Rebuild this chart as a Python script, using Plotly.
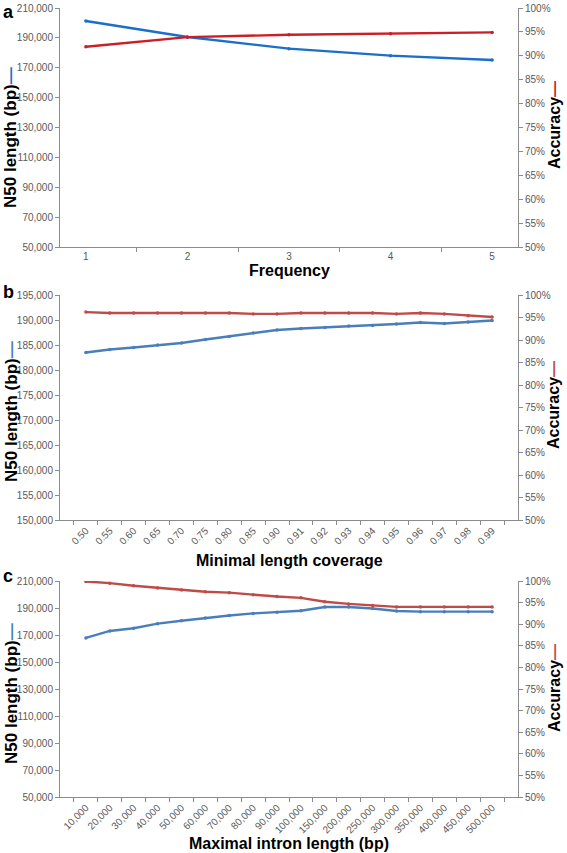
import plotly.graph_objects as go

# ---------------- data ----------------
freq_cats = ["1", "2", "3", "4", "5"]
n50_a = [201300, 190600, 182800, 178100, 175200]
acc_a = [0.919, 0.939, 0.944, 0.946, 0.949]

cov_cats = ["0.50", "0.55", "0.60", "0.65", "0.70", "0.75", "0.80", "0.85", "0.90",
            "0.91", "0.92", "0.93", "0.94", "0.95", "0.96", "0.97", "0.98", "0.99"]
n50_b = [183500, 184100, 184500, 185000, 185400, 186100, 186700, 187400, 188000,
         188300, 188500, 188800, 188900, 189200, 189500, 189300, 189600, 189900]
acc_b = [0.962, 0.960, 0.960, 0.960, 0.960, 0.960, 0.960, 0.958, 0.958,
         0.960, 0.960, 0.960, 0.960, 0.958, 0.960, 0.958, 0.954, 0.951]

intron_cats = ["10,000", "20,000", "30,000", "40,000", "50,000", "60,000", "70,000",
               "80,000", "90,000", "100,000", "150,000", "200,000", "250,000",
               "300,000", "350,000", "400,000", "450,000", "500,000"]
n50_c = [167800, 173000, 175000, 178400, 180600, 182600, 184400, 186000, 186800,
         188000, 190700, 190700, 189600, 187800, 187300, 187300, 187300, 187300]
acc_c = [0.999, 0.995, 0.989, 0.984, 0.979, 0.975, 0.973, 0.968, 0.964,
         0.961, 0.952, 0.947, 0.943, 0.940, 0.940, 0.940, 0.940, 0.940]

W, H = 567, 853
FONT = "Liberation Sans, Arial, sans-serif"
TICK_COLOR = "#595959"
AXIS_COLOR = "#8c8c8c"

BLUE_A, RED_A = "#1b6fc8", "#cc1f25"
BLUE, RED = "#4a7ebb", "#be4b48"

def px_x(x):
    return x / W

def px_y(y):
    return 1 - y / H

X0, X1 = 60, 518
panels = [
    # (top px, bottom px, cats, n50, acc, yrange, dtick, blue, red, xtitle, tickangle)
    (8, 247, freq_cats, n50_a, acc_a, [50000, 210000], 20000, BLUE_A, RED_A, "Frequency", 0),
    (295, 520, cov_cats, n50_b, acc_b, [150000, 195000], 5000, BLUE, RED, "Minimal length coverage", -45),
    (581, 797, intron_cats, n50_c, acc_c, [50000, 210000], 20000, BLUE, RED, "Maximal intron length (bp)", -45),
]

fig = go.Figure()
layout = dict(
    width=W, height=H,
    margin=dict(l=0, r=0, t=0, b=0),
    paper_bgcolor="white", plot_bgcolor="white",
    showlegend=False,
    font=dict(family=FONT, color=TICK_COLOR, size=10),
)

for i, (top, bot, cats, n50, acc, yr, dt, cb, cr, xtitle, tang) in enumerate(panels):
    k = i + 1
    xa = "x" if k == 1 else f"x{k}"
    yl = 2 * k - 1
    yr_idx = 2 * k
    yla = "y" if yl == 1 else f"y{yl}"
    yra = f"y{yr_idx}"

    fig.add_trace(go.Scatter(x=cats, y=n50, xaxis=xa, yaxis=yla, mode="lines+markers",
                             line=dict(color=cb, width=2.4),
                             marker=dict(size=3.5, color=cb)))
    fig.add_trace(go.Scatter(x=cats, y=acc, xaxis=xa, yaxis=yra, mode="lines+markers",
                             line=dict(color=cr, width=2.4),
                             marker=dict(size=3.5, color=cr)))

    dom_y = [px_y(bot), px_y(top)]
    layout["xaxis" if k == 1 else f"xaxis{k}"] = dict(
        domain=[px_x(X0), px_x(X1)], anchor=yla, type="category",
        showline=True, linecolor=AXIS_COLOR, linewidth=1,
        ticks="outside", ticklen=4, tickcolor=AXIS_COLOR, tickson="boundaries",
        tickangle=tang, showgrid=False, zeroline=False,
        tickfont=dict(size=10, color=TICK_COLOR, family=FONT),
        automargin=False,
    )
    layout["yaxis" if yl == 1 else f"yaxis{yl}"] = dict(
        domain=dom_y, anchor=xa, range=yr, dtick=dt, tick0=yr[0],
        tickformat=",", showline=True, linecolor=AXIS_COLOR, linewidth=1,
        ticks="outside", ticklen=4, tickcolor=AXIS_COLOR,
        showgrid=False, zeroline=False,
        tickfont=dict(size=10, color=TICK_COLOR, family=FONT),
        automargin=False,
    )
    layout[f"yaxis{yr_idx}"] = dict(
        domain=dom_y, anchor=xa, overlaying=yla, side="right",
        range=[0.5, 1.0], dtick=0.05, tick0=0.5, tickformat=".0%",
        showline=True, linecolor=AXIS_COLOR, linewidth=1,
        ticks="outside", ticklen=4, tickcolor=AXIS_COLOR,
        showgrid=False, zeroline=False,
        tickfont=dict(size=10, color=TICK_COLOR, family=FONT),
        automargin=False,
    )

fig.update_layout(**layout)

ann = []
# panel letters
for letter, yy in [("a", 0), ("b", 280), ("c", 564)]:
    ann.append(dict(text=f"<b>{letter}</b>", x=px_x(1), y=px_y(yy), xref="paper", yref="paper",
                    xanchor="left", yanchor="top", showarrow=False,
                    font=dict(size=18, color="black", family=FONT)))

# x-axis titles
for title, yy in [("Frequency", 270), ("Minimal length coverage", 560),
                  ("Maximal intron length (bp)", 843)]:
    ann.append(dict(text=f"<b>{title}</b>", x=px_x((X0 + X1) / 2), y=px_y(yy),
                    xref="paper", yref="paper", xanchor="center", yanchor="middle",
                    showarrow=False, font=dict(size=16, color="black", family=FONT)))

# y-axis titles with legend keys
left_centers = [138, 412, 694]
right_centers = [125, 405, 688]
for i, (cy, cyr) in enumerate(zip(left_centers, right_centers)):
    cb = panels[i][7]
    cr = panels[i][8]
    ann.append(dict(text=f"<b>N50 length (bp)</b><span style='color:{cb}'><b>—</b></span>",
                    x=px_x(11), y=px_y(cy), xref="paper", yref="paper",
                    xanchor="center", yanchor="middle", textangle=-90, showarrow=False,
                    font=dict(size=17, color="black", family=FONT)))
    ann.append(dict(text=f"<b>Accuracy</b><span style='color:{cr}'><b>—</b></span>",
                    x=px_x(554), y=px_y(cyr), xref="paper", yref="paper",
                    xanchor="center", yanchor="middle", textangle=-90, showarrow=False,
                    font=dict(size=16, color="black", family=FONT)))

fig.update_layout(annotations=ann)
fig.write_html("out.html", config={"displayModeBar": False},
               post_script="document.body.style.margin='0px';document.body.style.overflow='hidden';")
